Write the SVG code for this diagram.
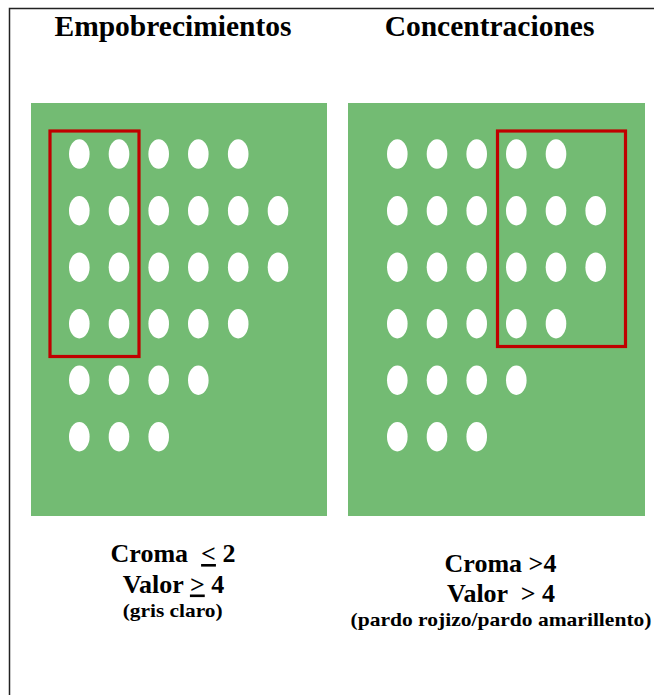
<svg xmlns="http://www.w3.org/2000/svg" width="654" height="695" viewBox="0 0 654 695">
<defs>
<style>
.frame{fill:none;stroke:#222;stroke-width:1.5}
.panel{fill:#73BB73}
.dot{fill:#fff}
.box{fill:none;stroke:#C00000;stroke-width:3.2}
.t{font-family:'Liberation Serif','Times New Roman','DejaVu Serif',serif;font-weight:bold;fill:#000;text-anchor:middle}
.title{font-size:29.5px}
.lab{font-size:26px}
.sub{font-size:19.5px}
.u{text-decoration:underline}
</style>
<ellipse id="d" class="dot" cx="0" cy="0" rx="10.3" ry="14.7"/>
</defs>
<rect width="654" height="695" fill="#fff"/>
<rect class="frame" x="9.5" y="8.5" width="700" height="700"/>

<g id="empobrecimientos">
<text class="t title" x="173" y="36">Empobrecimientos</text>
<rect class="panel" x="31" y="103" width="296" height="413"/>
<g id="dots-left">
<use href="#d" x="79.3" y="154"/><use href="#d" x="119" y="154"/><use href="#d" x="158.7" y="154"/><use href="#d" x="198.3" y="154"/><use href="#d" x="238.2" y="154"/>
<use href="#d" x="79.3" y="210.7"/><use href="#d" x="119" y="210.7"/><use href="#d" x="158.7" y="210.7"/><use href="#d" x="198.3" y="210.7"/><use href="#d" x="238.2" y="210.7"/><use href="#d" x="278" y="210.7"/>
<use href="#d" x="79.3" y="267.2"/><use href="#d" x="119" y="267.2"/><use href="#d" x="158.7" y="267.2"/><use href="#d" x="198.3" y="267.2"/><use href="#d" x="238.2" y="267.2"/><use href="#d" x="278" y="267.2"/>
<use href="#d" x="79.3" y="323.7"/><use href="#d" x="119" y="323.7"/><use href="#d" x="158.7" y="323.7"/><use href="#d" x="198.3" y="323.7"/><use href="#d" x="238.2" y="323.7"/>
<use href="#d" x="79.3" y="380.2"/><use href="#d" x="119" y="380.2"/><use href="#d" x="158.7" y="380.2"/><use href="#d" x="198.3" y="380.2"/>
<use href="#d" x="79.3" y="436.7"/><use href="#d" x="119" y="436.7"/><use href="#d" x="158.7" y="436.7"/>
</g>
<rect class="box" x="50" y="131" width="89" height="225.5"/>
<text class="t lab" x="173" y="562" xml:space="preserve">Croma  <tspan class="u">&lt;</tspan> 2</text>
<text class="t lab" x="173.5" y="592.5" xml:space="preserve">Valor <tspan class="u">&gt;</tspan> 4</text>
<text class="t sub" x="172.7" y="616.5" textLength="100" lengthAdjust="spacingAndGlyphs">(gris claro)</text>
</g>

<g id="concentraciones">
<text class="t title" x="489.5" y="36">Concentraciones</text>
<rect class="panel" x="348" y="103" width="297" height="413"/>
<g id="dots-right">
<use href="#d" x="397.3" y="154"/><use href="#d" x="437" y="154"/><use href="#d" x="476.7" y="154"/><use href="#d" x="516.3" y="154"/><use href="#d" x="556" y="154"/>
<use href="#d" x="397.3" y="210.7"/><use href="#d" x="437" y="210.7"/><use href="#d" x="476.7" y="210.7"/><use href="#d" x="516.3" y="210.7"/><use href="#d" x="556" y="210.7"/><use href="#d" x="595.7" y="210.7"/>
<use href="#d" x="397.3" y="267.2"/><use href="#d" x="437" y="267.2"/><use href="#d" x="476.7" y="267.2"/><use href="#d" x="516.3" y="267.2"/><use href="#d" x="556" y="267.2"/><use href="#d" x="595.7" y="267.2"/>
<use href="#d" x="397.3" y="323.7"/><use href="#d" x="437" y="323.7"/><use href="#d" x="476.7" y="323.7"/><use href="#d" x="516.3" y="323.7"/><use href="#d" x="556" y="323.7"/>
<use href="#d" x="397.3" y="380.2"/><use href="#d" x="437" y="380.2"/><use href="#d" x="476.7" y="380.2"/><use href="#d" x="516.3" y="380.2"/>
<use href="#d" x="397.3" y="436.7"/><use href="#d" x="437" y="436.7"/><use href="#d" x="476.7" y="436.7"/>
</g>
<rect class="box" x="497.5" y="131" width="128" height="215.5"/>
<text class="t lab" x="500.5" y="572">Croma &gt;4</text>
<text class="t lab" x="501" y="602" xml:space="preserve">Valor  &gt; 4</text>
<text class="t sub" x="501" y="625.5" textLength="301" lengthAdjust="spacingAndGlyphs">(pardo rojizo/pardo amarillento)</text>
</g>

<g id="connectors"/>
</svg>
